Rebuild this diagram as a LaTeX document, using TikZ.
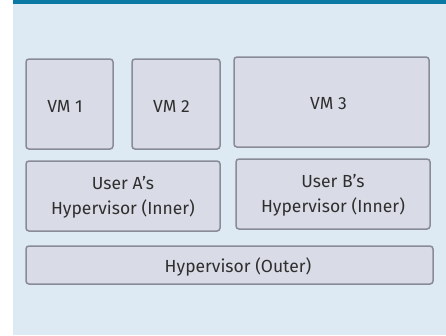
\documentclass[tikz,border=0pt]{standalone}
\usepackage{fontspec}
\setmainfont{Fira Sans}
\definecolor{bartop}{HTML}{0A7AA4}
\definecolor{panel}{HTML}{DDEAF3}
\definecolor{boxfill}{HTML}{D9DCE6}
\definecolor{boxline}{HTML}{8A8B98}
\definecolor{ink}{HTML}{2F2F2F}
\tikzset{
  layer/.style={draw=boxline, fill=boxfill, line width=1.5pt, rounded corners=3pt, inner sep=0pt},
  tag/.style={inner sep=0pt, align=center, text=ink, font=\fontsize{17.5}{25}\selectfont}
}
\begin{document}
\begin{tikzpicture}[x=1pt, y=-1pt]
  \useasboundingbox (0,0) rectangle (446,335);
  % panel and top rule
  \fill[panel] (13,0) rectangle (446,335);
  \fill[bartop] (13,0) rectangle (446,4);
  % guest machines
  \node[layer, minimum width=87pt, minimum height=90pt] (vm1) at (69.5,104) {};
  \node[layer, minimum width=88pt, minimum height=90pt] (vm2) at (176,104) {};
  \node[layer, minimum width=195pt, minimum height=90pt] (vm3) at (331.5,102) {};
  \node[tag] (vm1t) at ([xshift=-4.5pt, yshift=-2pt]vm1.center) {VM 1};
  \node[tag] (vm2t) at ([xshift=-4.5pt, yshift=-2pt]vm2.center) {VM 2};
  \node[tag] (vm3t) at ([xshift=-3pt, yshift=-2pt]vm3.center) {VM 3};
  % nested hypervisors
  \node[layer, minimum width=194pt, minimum height=70pt] (hypa) at (123,196) {};
  \node[layer, minimum width=194pt, minimum height=70pt] (hypb) at (333,194) {};
  \node[tag] (hypat) at ([yshift=-1.5pt]hypa.center) {User A’s\\Hypervisor (Inner)};
  \node[tag] (hypbt) at ([yshift=-1.5pt]hypb.center) {User B’s\\Hypervisor (Inner)};
  % host hypervisor
  \node[layer, minimum width=407pt, minimum height=38pt] (outer) at (229.5,265) {};
  \node[tag] (outert) at ([xshift=8.5pt, yshift=-1.5pt]outer.center) {Hypervisor (Outer)};
\end{tikzpicture}
\end{document}
